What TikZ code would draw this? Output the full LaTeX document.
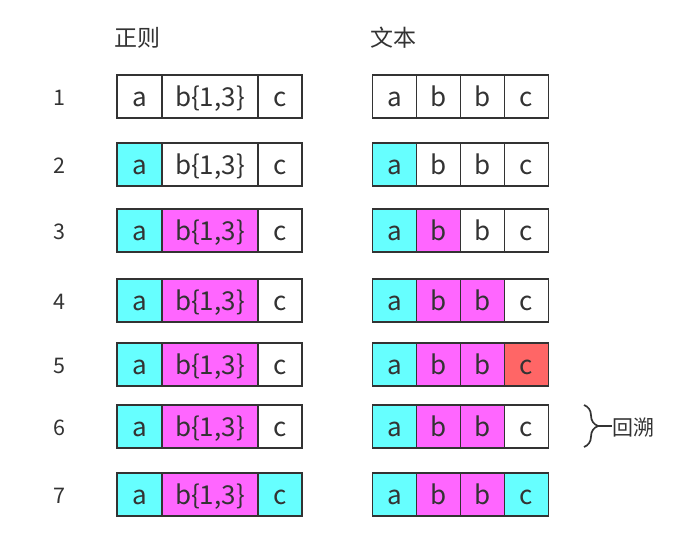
\documentclass[tikz,border=0pt]{standalone}
\usepackage{fontspec}
\setmainfont{Noto Sans CJK SC}
\usetikzlibrary{decorations.pathreplacing}
\definecolor{cy}{HTML}{66FFFF}
\definecolor{mg}{HTML}{FF66FF}
\definecolor{rd}{HTML}{FF6666}
\definecolor{ink}{HTML}{333333}
\tikzset{
  cell/.style={draw=ink, line width=1.9pt, minimum height=43pt, inner sep=0pt, text=ink,
    text height=24pt, text depth=3.4pt, font=\fontsize{26}{30}\selectfont},
  lbl/.style={text=ink, inner sep=0pt, text height=20pt, text depth=2.4pt, font=\fontsize{21.5}{25}\selectfont},
  head/.style={text=ink, inner sep=0pt, font=\fontsize{23}{27}\selectfont}
}
\begin{document}
\begin{tikzpicture}[x=1pt,y=-1pt]
\useasboundingbox (0,0) rectangle (690,549);
\node[head, anchor=base west] (h1) at (114,46) {正则};
\node[head, anchor=base west] (h2) at (370,46) {文本};
\foreach \r/\y/\la/\lb/\lc/\ta/\tb/\tc/\td in {
  1/96.5/white/white/white/white/white/white/white,
  2/164.5/cy/white/white/cy/white/white/white,
  3/230.5/cy/mg/white/cy/mg/white/white,
  4/300.5/cy/mg/white/cy/mg/mg/white,
  5/364.5/cy/mg/white/cy/mg/mg/rd,
  6/426.5/cy/mg/white/cy/mg/mg/white,
  7/494.5/cy/mg/cy/cy/mg/mg/cy}{
  \node[lbl] (n\r) at (59.5,\y) {\r};
  \node[cell, fill=\la, minimum width=45pt] (L\r a) at (139.5,\y) {a};
  \node[cell, fill=\lb, minimum width=96pt] (L\r b) at (210,\y) {b\{1,3\}};
  \node[cell, fill=\lc, minimum width=44pt] (L\r c) at (280,\y) {c};
  \node[cell, fill=\ta, minimum width=44pt] (T\r a) at (394.5,\y) {a};
  \node[cell, fill=\tb, minimum width=44pt] (T\r b) at (438.5,\y) {b};
  \node[cell, fill=\tc, minimum width=44pt] (T\r c) at (482.5,\y) {b};
  \node[cell, fill=\td, minimum width=44pt] (T\r d) at (526.5,\y) {c};
}
\coordinate (bt) at (584,405);
\coordinate (bb) at (584,447);
\draw[ink, line width=1.7pt, decorate, decoration={brace, amplitude=14pt}] (bt) -- (bb);
\coordinate (btip) at (598,426);
\node[head, anchor=base west, font=\fontsize{21}{25}\selectfont] (bk) at (612,435) {回溯};
\draw[ink, line width=1.7pt] (btip) -- (bk.west |- btip);
\end{tikzpicture}
\end{document}
